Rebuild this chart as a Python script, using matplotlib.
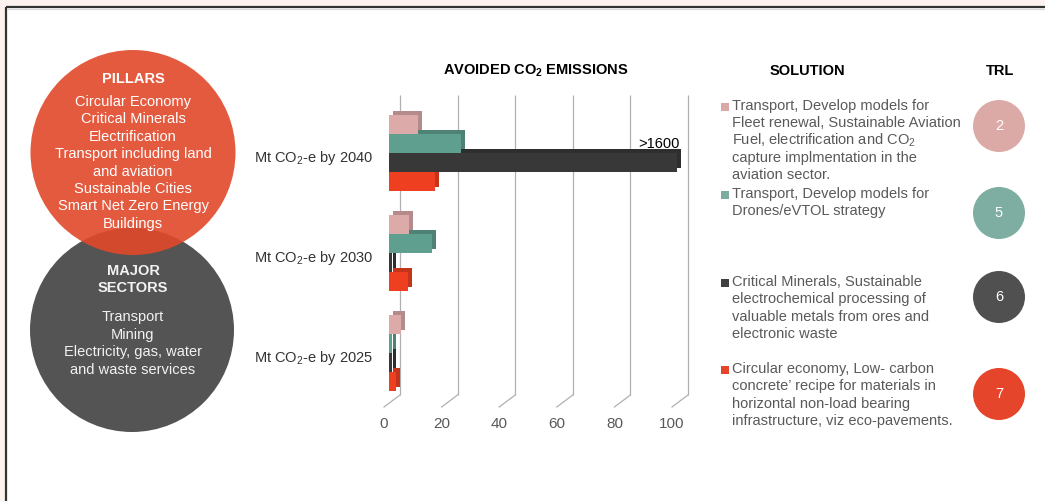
import matplotlib
matplotlib.use("Agg")
import matplotlib.pyplot as plt
import matplotlib.transforms as mtransforms
import matplotlib.patheffects as pe
from matplotlib.patches import Circle, Rectangle
import numpy as np

plt.rcParams['font.family'] = ['Liberation Sans', 'DejaVu Sans']
plt.rcParams['mathtext.fontset'] = 'custom'
plt.rcParams['mathtext.rm'] = 'Liberation Sans'
plt.rcParams['mathtext.it'] = 'Liberation Sans:italic'
plt.rcParams['mathtext.bf'] = 'Liberation Sans:bold'

# ---------------- data ----------------
categories = ['Mt CO$_2$-e by 2025', 'Mt CO$_2$-e by 2030', 'Mt CO$_2$-e by 2040']
transport_fleet = [4, 7, 10]
transport_drones = [1, 15, 25]
critical_minerals = [1, 1, 100]      # 2040 value shown capped (>1600)
circular_economy = [2.5, 6.5, 16]
capped_label = '>1600'
x_ticks = [0, 20, 40, 60, 80, 100]
trl_values = ['2', '5', '6', '7']
series_colors = ['#dcaaa8', '#5f9f8f', '#383838', '#ee3f20']
legend_colors = ['#dba9a5', '#7aab9e', '#404040', '#e5452a']
trl_colors = ['#dcaaa6', '#7eaea1', '#505050', '#e5452a']
solutions = [
    ['Transport, Develop models for', 'Fleet renewal, Sustainable Aviation',
     'Fuel, electrification and CO$_2$', 'capture implmentation in the',
     'aviation sector.'],
    ['Transport, Develop models for', 'Drones/eVTOL strategy'],
    ['Critical Minerals, Sustainable', 'electrochemical processing of',
     'valuable metals from ores and', 'electronic waste'],
    ['Circular economy, Low- carbon', "concrete\u2019 recipe for materials in",
     'horizontal non-load bearing', 'infrastructure, viz eco-pavements.'],
]
pillars = ['Circular Economy', 'Critical Minerals', 'Electrification',
           'Transport including land', 'and aviation', 'Sustainable Cities',
           'Smart Net Zero Energy', 'Buildings']
sectors = ['Transport', 'Mining', 'Electricity, gas, water', 'and waste services']

FS = 10.5
W, H = 1045, 501
fig = plt.figure(figsize=(W / 100, H / 100), dpi=100, facecolor='#fdf3ee')

# overlay axes in pixel coordinates
ov = fig.add_axes([0, 0, 1, 1])
ov.set_xlim(0, W)
ov.set_ylim(H, 0)
ov.axis('off')
ov.add_patch(Rectangle((7, 8), W, H, facecolor='white', edgecolor='none'))
ov.plot([6, 6], [7, H + 2], color='#333333', lw=1.6, solid_capstyle='butt')
ov.plot([6, W + 2], [7, 7], color='#333333', lw=1.6, solid_capstyle='butt')
ov.plot([8, W + 2], [9, 9], color='#d8d8d8', lw=0.8)

# left circles
ov.add_patch(Circle((132, 330), 102, facecolor='#545454', edgecolor='none'))
ov.add_patch(Circle((133, 152.5), 102.5, facecolor='#e2482a', alpha=0.9, edgecolor='none'))
ov.text(133, 79, 'PILLARS', ha='center', va='center', color='white',
        fontsize=FS, fontweight='bold')
for i, s in enumerate(pillars):
    ov.text(133, 102 + i * 17.4, s, ha='center', va='center', color='white', fontsize=FS)
ov.text(133, 271, 'MAJOR', ha='center', va='center', color='#f2f2f2',
        fontsize=FS, fontweight='bold')
ov.text(133, 288, 'SECTORS', ha='center', va='center', color='#f2f2f2',
        fontsize=FS, fontweight='bold')
for i, s in enumerate(sectors):
    ov.text(133, 317 + i * 17.6, s, ha='center', va='center', color='#f2f2f2', fontsize=FS)

# headers
ov.text(536, 71, 'AVOIDED CO$_\\mathbf{2}$ EMISSIONS', ha='center', va='center',
        fontsize=FS, fontweight='bold', color='black')
ov.text(807, 71, 'SOLUTION', ha='center', va='center', fontsize=FS,
        fontweight='bold', color='black')
ov.text(1000, 71, 'TRL', ha='center', va='center', fontsize=FS,
        fontweight='bold', color='black')

# solution legend
starts = [106, 194, 282, 369]
for k, lines in enumerate(solutions):
    y0 = starts[k]
    ov.add_patch(Rectangle((721, y0 - 3), 7.5, 7.5, facecolor=legend_colors[k], edgecolor='none'))
    for j, s in enumerate(lines):
        ov.text(732, y0 + j * 17.3, s, ha='left', va='center', fontsize=FS, color='#595959')

# TRL circles
trl_y = [126, 213, 297, 394]
for k, v in enumerate(trl_values):
    ov.add_patch(Circle((999, trl_y[k]), 26, facecolor=trl_colors[k], edgecolor='none'))
    ov.text(999, trl_y[k], v, ha='center', va='center', color='white', fontsize=FS)

# ---------------- bar chart ----------------
ax_left, ax_right, ax_top, ax_bot = 389, 677, 95, 395
ax = fig.add_axes([ax_left / W, 1 - ax_bot / H, (ax_right - ax_left) / W, (ax_bot - ax_top) / H])
ax.patch.set_alpha(0)
ax.set_xlim(0, 100)
ax.set_ylim(-0.42, 2.58)
ax.axis('off')


def off(dx, dy):
    return mtransforms.ScaledTranslation(dx / 100, -dy / 100, fig.dpi_scale_trans)


kx = 100 / (ax_right - ax_left)
xt = ax.get_xaxis_transform()
ax.vlines(x_ticks, 0, 1, transform=xt + off(11, 0), color='#b0b0b0', lw=0.9,
          clip_on=False, zorder=0)
for t in x_ticks:
    ax.plot([t + 11 * kx, t - 5 * kx], [0, -12 / (ax_bot - ax_top)], transform=xt,
            color='#b0b0b0', lw=0.9, clip_on=False, zorder=0)
    ax.text(t, 0, str(t), transform=xt + off(-5, 29), ha='center', va='center',
            fontsize=FS + 0.5, color='#595959')

pos = np.arange(len(categories))
h = 0.19
series = [transport_fleet, transport_drones, critical_minerals, circular_economy]
offsets = [1.5 * h, 0.5 * h, -0.5 * h, -1.5 * h]


def darker(c, f=0.82):
    r, g, b = matplotlib.colors.to_rgb(c)
    return (r * f, g * f, b * f)


for k in [3, 2, 1, 0]:
    bars = ax.barh(pos + offsets[k], series[k], height=h, color=series_colors[k],
                   edgecolor='none', clip_on=False, zorder=2 + (3 - k))
    for b in bars:
        b.set_path_effects([pe.SimplePatchShadow(offset=(3, 3), shadow_rgbFace=darker(series_colors[k]),
                                                 alpha=1.0), pe.Normal()])

ax.text(critical_minerals[2], pos[2] + offsets[2] + h / 2, capped_label,
        transform=ax.transData + off(3, -2), ha='right', va='bottom',
        fontsize=FS, color='black', zorder=10)

for p, lab in zip(pos, categories):
    ax.text(0, p, lab, transform=ax.transData + off(-16, 5), ha='right', va='center',
            fontsize=FS, color='#333333')

fig.savefig('out.png', dpi=100, facecolor=fig.get_facecolor())
